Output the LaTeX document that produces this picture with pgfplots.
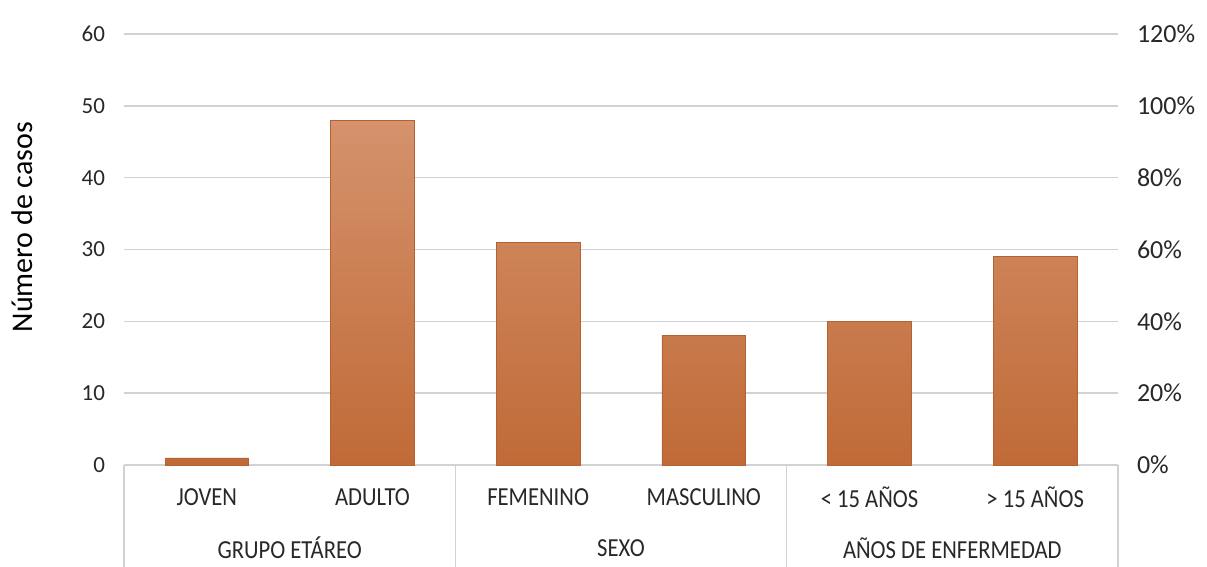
\documentclass[border=0pt]{standalone}
\usepackage{pgfplots}
\pgfplotsset{compat=1.18}
\usepackage{fontspec}
\setmainfont{Carlito}
\newfontfamily\condfont[FakeStretch=0.87]{Carlito}
\definecolor{gridc}{RGB}{210,210,210}
\definecolor{barTop}{RGB}{213,146,108}
\definecolor{barMid}{RGB}{208,128,76}
\definecolor{barBot}{RGB}{192,106,55}
\definecolor{barEdge}{RGB}{180,98,50}
\definecolor{txt}{RGB}{40,40,40}
\tikzset{catlab/.style={font=\condfont\fontsize{13}{15}\selectfont, text=txt}}
\begin{document}
\begin{tikzpicture}
\begin{axis}[
  at={(0,0)}, anchor=south west,
  width=497pt, height=215.5pt, scale only axis,
  xmin=-0.5, xmax=5.5, ymin=0, ymax=60,
  axis line style={draw=none},
  xtick=\empty,
  ytick={0,10,...,60},
  ymajorgrids, grid style={gridc, line width=0.8pt},
  major tick length=0pt,
  yticklabel style={font=\fontsize{11.5}{13}\selectfont, text=txt, xshift=-6pt},
  /pgf/number format/assume math mode=true,
  ylabel={Número de casos},
  every axis y label/.style={at={(axis description cs:-0.1026,0.552)}, rotate=90, anchor=center, font=\fontsize{15}{18}\selectfont, text=black},
  clip=false,
]
\addplot[ybar, bar width=0.505, draw=barEdge, line width=0.3pt,
  top color=barTop, middle color=barMid, bottom color=barBot]
  coordinates {(0,1) (1,48) (2,31) (3,18) (4,20) (5,29)};
% category frame
\pgfplotsinvokeforeach{-0.5,1.5,3.5,5.5}{
  \draw[gridc, line width=0.8pt] (axis cs:#1,0) -- ([yshift=-52pt]axis cs:#1,0);
}
\node[catlab] at ([yshift=-16pt]axis cs:0,0) {JOVEN};
\node[catlab] at ([yshift=-16pt]axis cs:1,0) {ADULTO};
\node[catlab] at ([yshift=-16pt]axis cs:2,0) {FEMENINO};
\node[catlab] at ([yshift=-16pt]axis cs:3,0) {MASCULINO};
\node[catlab] at ([yshift=-16pt]axis cs:4,0) {< 15 AÑOS};
\node[catlab] at ([yshift=-16pt]axis cs:5,0) {> 15 AÑOS};
\node[catlab] at ([yshift=-41.5pt]axis cs:0.5,0) {GRUPO ETÁREO};
\node[catlab] at ([yshift=-41.5pt]axis cs:2.5,0) {SEXO};
\node[catlab] at ([yshift=-41.5pt]axis cs:4.5,0) {AÑOS DE ENFERMEDAD};
\end{axis}
\begin{axis}[
  at={(0,0)}, anchor=south west,
  width=497pt, height=215.5pt, scale only axis,
  xmin=-0.5, xmax=5.5, ymin=0, ymax=120,
  axis y line*=right, axis x line=none,
  axis line style={draw=none},
  ytick={0,20,...,120},
  major tick length=0pt,
  yticklabel={\pgfmathprintnumber{\tick}\%},
  yticklabel style={font=\fontsize{13}{15}\selectfont, text=txt, anchor=west, xshift=6pt},
  /pgf/number format/assume math mode=true,
]
\addplot[draw=none] coordinates {(0,0)};
\end{axis}
\pgfresetboundingbox
\path[use as bounding box] (-62pt,-51pt) rectangle (541.5pt,232.5pt);
\end{tikzpicture}
\end{document}
